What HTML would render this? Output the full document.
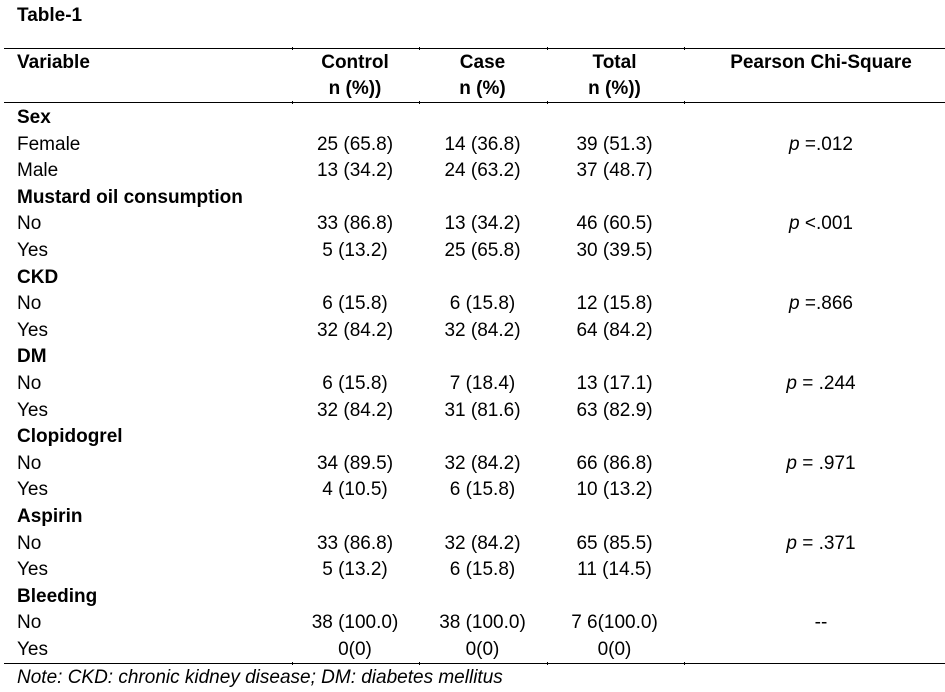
<!DOCTYPE html>
<html>
<head>
<meta charset="utf-8">
<style>
  html, body { margin: 0; padding: 0; background: #fff; }
  body { width: 945px; height: 690px; position: relative; overflow: hidden;
         font-family: "Liberation Sans", "DejaVu Sans", sans-serif; font-size: 19px; color: #000; }
  .abs { position: absolute; }
  .line { position: absolute; left: 4px; width: 941px; height: 1px; background: #000; }
  .tick { position: absolute; width: 1px; height: 3px; background: #000; }
  .title { left: 17px; top: 3px; line-height: 26.6px; font-weight: bold; }
  .hdr { position: absolute; top: 50.4px; left: 0; width: 945px; line-height: 26px; font-weight: bold; }
  .hdr span { position: absolute; top: 0; white-space: nowrap; }
  .body { position: absolute; top: 105.1px; left: 0; width: 945px; }
  .row { position: relative; height: 26.6px; line-height: 26.6px; white-space: nowrap; }
  .row span { position: absolute; top: 0; }
  .c0 { left: 17px; }
  .c1, .c2, .c3, .c4 { width: 200px; text-align: center; }
  .c1 { left: 255px; }
  .c2 { left: 382.5px; }
  .c3 { left: 514.5px; }
  .c4 { left: 721px; }
  .b { font-weight: bold; }
  i { font-style: italic; }
  .note { left: 17px; top: 665px; line-height: 26.6px; font-style: italic; }
</style>
</head>
<body>
  <div class="abs title">Table-1</div>

  <div class="line" style="top:48px"></div>
  <div class="tick" style="left:292px; top:47px"></div>
  <div class="tick" style="left:419px; top:47px"></div>
  <div class="tick" style="left:547px; top:47px"></div>
  <div class="tick" style="left:684px; top:47px"></div>

  <div class="hdr">
    <span class="c0">Variable</span>
    <span class="c1">Control<br>n (%))</span>
    <span class="c2">Case<br>n (%)</span>
    <span class="c3">Total<br>n (%))</span>
    <span class="c4">Pearson Chi-Square</span>
  </div>

  <div class="line" style="top:102px"></div>
  <div class="tick" style="left:292px; top:101px"></div>
  <div class="tick" style="left:419px; top:101px"></div>
  <div class="tick" style="left:547px; top:101px"></div>
  <div class="tick" style="left:684px; top:101px"></div>

  <div class="body">
    <div class="row"><span class="c0 b">Sex</span></div>
    <div class="row"><span class="c0">Female</span><span class="c1">25 (65.8)</span><span class="c2">14 (36.8)</span><span class="c3">39 (51.3)</span><span class="c4"><i>p</i> =.012</span></div>
    <div class="row"><span class="c0">Male</span><span class="c1">13 (34.2)</span><span class="c2">24 (63.2)</span><span class="c3">37 (48.7)</span></div>
    <div class="row"><span class="c0 b">Mustard oil consumption</span></div>
    <div class="row"><span class="c0">No</span><span class="c1">33 (86.8)</span><span class="c2">13 (34.2)</span><span class="c3">46 (60.5)</span><span class="c4"><i>p</i> &lt;.001</span></div>
    <div class="row"><span class="c0">Yes</span><span class="c1">5 (13.2)</span><span class="c2">25 (65.8)</span><span class="c3">30 (39.5)</span></div>
    <div class="row"><span class="c0 b">CKD</span></div>
    <div class="row"><span class="c0">No</span><span class="c1">6 (15.8)</span><span class="c2">6 (15.8)</span><span class="c3">12 (15.8)</span><span class="c4"><i>p</i> =.866</span></div>
    <div class="row"><span class="c0">Yes</span><span class="c1">32 (84.2)</span><span class="c2">32 (84.2)</span><span class="c3">64 (84.2)</span></div>
    <div class="row"><span class="c0 b">DM</span></div>
    <div class="row"><span class="c0">No</span><span class="c1">6 (15.8)</span><span class="c2">7 (18.4)</span><span class="c3">13 (17.1)</span><span class="c4"><i>p</i> = .244</span></div>
    <div class="row"><span class="c0">Yes</span><span class="c1">32 (84.2)</span><span class="c2">31 (81.6)</span><span class="c3">63 (82.9)</span></div>
    <div class="row"><span class="c0 b">Clopidogrel</span></div>
    <div class="row"><span class="c0">No</span><span class="c1">34 (89.5)</span><span class="c2">32 (84.2)</span><span class="c3">66 (86.8)</span><span class="c4"><i>p</i> = .971</span></div>
    <div class="row"><span class="c0">Yes</span><span class="c1">4 (10.5)</span><span class="c2">6 (15.8)</span><span class="c3">10 (13.2)</span></div>
    <div class="row"><span class="c0 b">Aspirin</span></div>
    <div class="row"><span class="c0">No</span><span class="c1">33 (86.8)</span><span class="c2">32 (84.2)</span><span class="c3">65 (85.5)</span><span class="c4"><i>p</i> = .371</span></div>
    <div class="row"><span class="c0">Yes</span><span class="c1">5 (13.2)</span><span class="c2">6 (15.8)</span><span class="c3">11 (14.5)</span></div>
    <div class="row"><span class="c0 b">Bleeding</span></div>
    <div class="row"><span class="c0">No</span><span class="c1">38 (100.0)</span><span class="c2">38 (100.0)</span><span class="c3">7 6(100.0)</span><span class="c4">--</span></div>
    <div class="row"><span class="c0">Yes</span><span class="c1">0(0)</span><span class="c2">0(0)</span><span class="c3">0(0)</span></div>
  </div>

  <div class="line" style="top:663px"></div>
  <div class="tick" style="left:292px; top:662px"></div>
  <div class="tick" style="left:419px; top:662px"></div>
  <div class="tick" style="left:547px; top:662px"></div>
  <div class="tick" style="left:684px; top:662px"></div>

  <div class="abs note">Note: CKD: chronic kidney disease; DM: diabetes mellitus</div>
</body>
</html>
